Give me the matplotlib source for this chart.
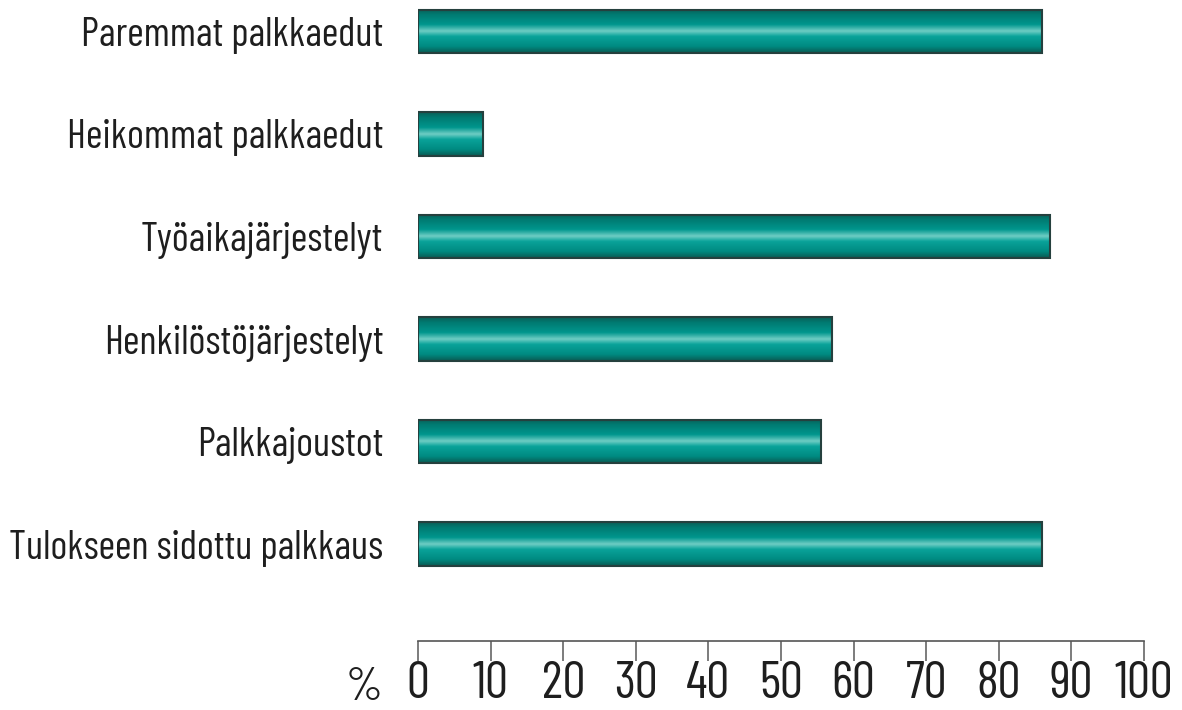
import numpy as np
import matplotlib
matplotlib.use("Agg")
from matplotlib import pyplot as plt
from matplotlib.colors import LinearSegmentedColormap

categories = ["Paremmat palkkaedut", "Heikommat palkkaedut", "Työaikajärjestelyt",
              "Henkilöstöjärjestelyt", "Palkkajoustot", "Tulokseen sidottu palkkaus"]
values = [86, 9, 87, 57, 55.5, 86]
xticks = [0, 10, 20, 30, 40, 50, 60, 70, 80, 90, 100]

font = ["Barlow Condensed", "Liberation Sans", "DejaVu Sans"]

# vertical shading of the bars: dark edge, teal, light stripe, teal, dark edge
bar_cmap = LinearSegmentedColormap.from_list("teal", [
    (0.00, "#0b5e57"), (0.12, "#007a71"), (0.35, "#00968d"),
    (0.50, "#6fcdc4"), (0.62, "#0aa39a"), (0.85, "#008a81"), (1.00, "#0a5a53")])

fig = plt.figure(figsize=(11.82, 7.1), dpi=100)
ax = fig.add_axes([418 / 1182, 1 - 641 / 710, 726 / 1182, 641 / 710])

h = 0.42
grad = np.linspace(0, 1, 256).reshape(-1, 1)
for i, v in enumerate(values):
    ax.imshow(grad, extent=(0, v, i + h / 2, i - h / 2), aspect="auto",
              cmap=bar_cmap, interpolation="bilinear", zorder=2)
ax.barh(range(len(values)), values, height=h, facecolor="none",
        edgecolor="#25403e", linewidth=1.5, zorder=3)

ax.set_xlim(0, 100)
ax.set_ylim(len(values) - 1 + 0.946, -0.307)
ax.set_aspect("auto")

for s in ["top", "right", "left"]:
    ax.spines[s].set_visible(False)
ax.spines["bottom"].set_color("#555555")
ax.spines["bottom"].set_linewidth(1.2)

ax.set_xticks(xticks)
ax.set_xticklabels([str(t) for t in xticks], family=font, fontsize=37, color="#1e1e1e")
ax.tick_params(axis="x", direction="out", length=14.5, width=1.2, color="#666666", pad=0)

ax.set_yticks(range(len(categories)))
ax.set_yticklabels(categories, family=font, fontsize=29, color="#1e1e1e")
ax.tick_params(axis="y", length=0, pad=25)

fig.text(364 / 1182, 1 - 688 / 710, "%", family=font, fontsize=34,
         color="#1e1e1e", ha="center", va="center")

plt.savefig("out.png", dpi=100)
